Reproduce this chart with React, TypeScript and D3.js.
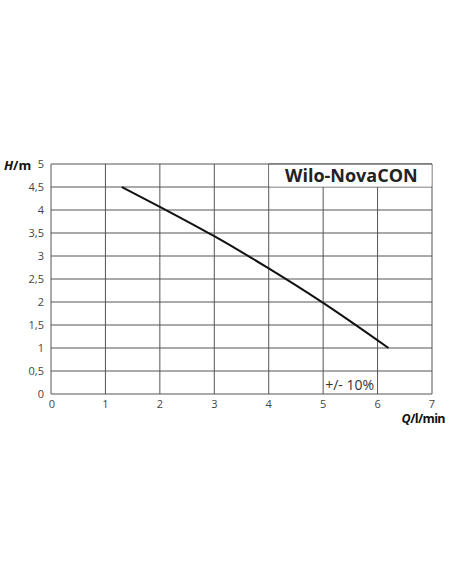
import React from "react";
import * as d3 from "d3";

const qValues = [1.3, 2.0, 3.0, 4.0, 5.0, 6.2];
const hValues = [4.5, 4.07, 3.43, 2.73, 1.98, 1.0];
const xTicks = [0, 1, 2, 3, 4, 5, 6, 7];
const yTicks = [0, 0.5, 1, 1.5, 2, 2.5, 3, 3.5, 4, 4.5, 5];
const yTickLabels = ["0", "0,5", "1", "1,5", "2", "2,5", "3", "3,5", "4", "4,5", "5"];
const title = "Wilo-NovaCON";
const note = "+/- 10%";

export default function App() {
  const W = 452, H = 584;
  const left = 51, right = 432, top = 164, bottom = 394;
  const x = d3.scaleLinear().domain([0, 7]).range([left, right]);
  const y = d3.scaleLinear().domain([0, 5]).range([bottom, top]);
  const pts: [number, number][] = qValues.map((q, i) => [q, hValues[i]]);
  const line = d3.line<[number, number]>().x(d => x(d[0])).y(d => y(d[1])).curve(d3.curveMonotoneX);
  const font = "'Open Sans', sans-serif";
  const grid = "#555";
  return (
    <svg width={W} height={H} style={{ position: "absolute", left: 0, top: 0 }}>
      <rect width={W} height={H} fill="#fff" />
      {yTicks.map(t => (
        <line key={"h" + t} x1={left} x2={right} y1={y(t)} y2={y(t)} stroke={grid} strokeWidth={1} />
      ))}
      {xTicks.map(t => {
        const y1 = t === 5 || t === 6 ? y(4.5) : top;
        return <line key={"v" + t} x1={x(t)} x2={x(t)} y1={y1} y2={bottom} stroke={grid} strokeWidth={1} />;
      })}
      <rect x={x(4) + 0.5} y={top + 0.5} width={right - x(4) - 1} height={y(4.5) - top - 1} fill="#fff" />
      <line x1={x(4)} x2={right} y1={top} y2={top} stroke={grid} />
      <text x={(x(4) + right) / 2 + 1} y={182} textAnchor="middle" fontFamily={font} fontWeight={700} fontSize={18} fill="#222">{title}</text>
      <path d={line(pts) || ""} fill="none" stroke="#111" strokeWidth={2} />
      <text x={x(5) + 2} y={390} fontFamily={font} fontSize={14} fill="#333">{note}</text>
      {yTicks.map((t, i) => (
        <text key={"yl" + t} x={44} y={y(t)} dy="0.35em" textAnchor="end" fontFamily={font} fontSize={11} fill="#444">{yTickLabels[i]}</text>
      ))}
      {xTicks.map(t => (
        <text key={"xl" + t} x={x(t) + (t === 0 ? 1 : 0)} y={408} textAnchor="middle" fontFamily={font} fontSize={11} fill="#444">{t}</text>
      ))}
      <text x={4} y={170} fontFamily={font} fontWeight={700} fontSize={13} fill="#111">
        <tspan fontStyle="italic">H</tspan>/m
      </text>
      <text x={445} y={423} textAnchor="end" fontFamily={font} fontWeight={700} fontSize={12.5} letterSpacing={-0.6} fill="#111">
        <tspan fontStyle="italic">Q</tspan>/l/min
      </text>
    </svg>
  );
}
